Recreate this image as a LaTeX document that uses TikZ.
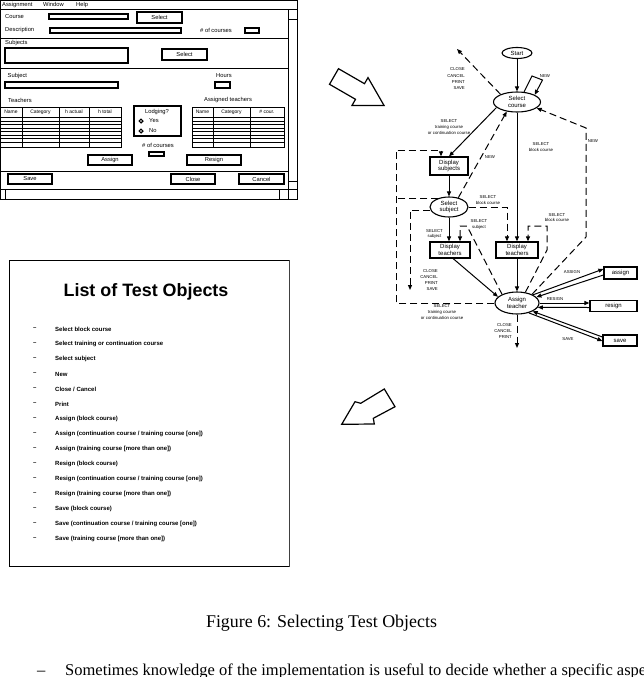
\documentclass[tikz,border=0pt]{standalone}
\usepackage{fontspec}
\setmainfont{Liberation Serif}
\setsansfont{Liberation Sans}
\usetikzlibrary{arrows.meta,shapes.geometric,calc}
\begin{document}
\begin{tikzpicture}[x=1pt,y=-1pt,
  guitext/.style={font=\sffamily\fontsize{5.8}{6.5}\selectfont, inner sep=0pt},
  headtext/.style={font=\sffamily\fontsize{5}{6}\selectfont, inner sep=0pt},
  field/.style={draw, line width=1.1pt, fill=white},
  button/.style={draw, line width=1.4pt, fill=white, inner sep=0pt, font=\sffamily\fontsize{5.8}{6.5}\selectfont},
  thinl/.style={line width=0.7pt},
  midl/.style={line width=0.95pt},
  blockarrow/.style={draw, line width=1.2pt, fill=white, line join=miter},
  state/.style={ellipse, draw, line width=1.1pt, fill=white, inner sep=0pt, align=center, font=\sffamily\fontsize{6}{6.7}\selectfont},
  proc/.style={rectangle, draw, line width=1.2pt, fill=white, inner sep=0pt, align=center, font=\sffamily\fontsize{6}{6.7}\selectfont},
  lbl/.style={font=\sffamily\fontsize{4.3}{5.6}\selectfont, inner sep=0pt, align=center},
  caps/.style={font=\sffamily\fontsize{4.3}{6.2}\selectfont, inner sep=0pt, align=right},
  flow/.style={line width=1pt, -{Triangle[length=5pt,width=4pt]}},
  dashl/.style={line width=1pt, dash pattern=on 7pt off 4pt},
  dflow/.style={flow, dash pattern=on 7pt off 4pt},
  listitem/.style={font=\sffamily\bfseries\fontsize{6}{7}\selectfont, inner sep=0pt, anchor=west},
]
\useasboundingbox (0,0) rectangle (644,677);

% ================= GUI window =================
\draw[line width=0.9pt, fill=white] (0,0) rectangle (297,199);
\draw[midl] (0,9.3) -- (297,9.3);
\node[guitext, anchor=west] (mAssign) at (2,4.8) {Assignment};
\node[guitext, anchor=west] (mWindow) at (43,4.8) {Window};
\node[guitext, anchor=west] (mHelp) at (76,4.8) {Help};
\draw[midl] (288,9.3) -- (288,199);
\draw[thinl] (288,19.3) -- (297,19.3);
\draw[thinl] (288,181) -- (297,181);
\draw[midl] (0,189) -- (297,189);
\draw[thinl] (5,189) -- (5,199);
\draw[thinl] (279,189) -- (279,199);
\draw[midl] (0,38.5) -- (288,38.5);
\draw[midl] (0,68) -- (288,68);
\draw[midl] (0,171) -- (288,171);

\node[guitext, anchor=west] (tCourse) at (5,16.5) {Course};
\draw[field] (49,14) rectangle (128,19);
\node[button, minimum width=45pt, minimum height=11pt] (bSel1) at (159.5,17.5) {Select};
\node[guitext, anchor=west] (tDesc) at (5,30.5) {Description};
\draw[field] (50,28) rectangle (181,33);
\node[guitext, anchor=west] (tNum1) at (200,30.5) {\# of courses};
\draw[field] (245,28) rectangle (259,33);

\node[guitext, anchor=west] (tSubjects) at (5,43.3) {Subjects};
\draw[field] (5,48) rectangle (128,63);
\node[button, minimum width=45pt, minimum height=11pt] (bSel2) at (184.5,54.5) {Select};

\node[guitext, anchor=west] (tSubject) at (7.5,75.7) {Subject};
\draw[field] (5,82) rectangle (118,88);
\node[guitext, anchor=west] (tHours) at (216,75.7) {Hours};
\draw[field] (215,82) rectangle (230,88);

\node[guitext, anchor=west] (tTeachers) at (8,100) {Teachers};
\node[guitext, anchor=west] (tAssigned) at (204,100) {Assigned teachers};

% teachers table
\draw[line width=1pt] (0,107) rectangle (121,147);
\foreach \yy in {117,121,124.5,128,131.5,135,138.5,142.5} \draw[thinl] (0,\yy) -- (121,\yy);
\foreach \xx in {22,59,89} \draw[thinl] (\xx,107) -- (\xx,147);
\node[headtext] (hName) at (11,112) {Name};
\node[headtext] (hCat) at (40.5,112) {Category};
\node[headtext] (hAct) at (74,112) {h actual};
\node[headtext] (hTot) at (105,112) {h total};

% assigned table
\draw[line width=1pt] (192,107) rectangle (284,147);
\foreach \yy in {117,121,124.5,128,131.5,135,138.5,142.5} \draw[thinl] (192,\yy) -- (284,\yy);
\foreach \xx in {213,250} \draw[thinl] (\xx,107) -- (\xx,147);
\node[headtext] (hName2) at (202.5,112) {Name};
\node[headtext] (hCat2) at (231.5,112) {Category};
\node[headtext] (hCour) at (267,112) {\# cour.};

% lodging
\draw[line width=1.1pt] (134,106) rectangle (181,136);
\node[guitext] (tLodg) at (157,111.7) {Lodging?};
\draw[line width=1.2pt] (141,121) circle (1.9);
\draw[line width=1.2pt] (141,131) circle (1.9);
\node[guitext, anchor=west] (tYes) at (149,120.5) {Yes};
\node[guitext, anchor=west] (tNo) at (149,130.5) {No};
\node[guitext] (tNum2) at (158,145) {\# of courses};
\draw[field] (149,152) rectangle (164,156);

\node[button, minimum width=44pt, minimum height=10pt] (bAssign) at (110,160) {Assign};
\node[button, minimum width=54pt, minimum height=10pt] (bResign) at (214,160) {Resign};
\node[button, minimum width=44pt, minimum height=10pt] (bSave) at (30,179) {Save};
\node[button, minimum width=44pt, minimum height=10pt] (bClose) at (193,179) {Close};
\node[button, minimum width=45pt, minimum height=10pt] (bCancel) at (261.5,179) {Cancel};

% ================= block arrows =================
\draw[blockarrow] (338.5,68.7) -- (364.5,83.7) -- (368,77.6) -- (384,105.4) -- (352,105.4) -- (355.5,99.3) -- (329.5,84.3) -- cycle;
\draw[blockarrow] (384.3,389) -- (395,406.7) -- (373.3,418.3) -- (374.3,424) -- (341.7,424.3) -- (355,401.7) -- (360.7,403.3) -- cycle;

% ================= list box =================
\draw[line width=0.9pt] (9,260) rectangle (289,566);
\draw[line width=1.6pt, black!75] (289.3,260) -- (289.3,566.5);
\node[font=\sffamily\bfseries\fontsize{17.9}{20}\selectfont, inner sep=0pt] (title) at (146,292) {List of Test Objects};
\foreach \k in {0,...,14} \node[listitem] (dash\k) at (33,{329+15*\k}) {–};
\node[listitem] (it1) at (55,329) {Select block course};
\node[listitem] (it2) at (55,344) {Select training or continuation course};
\node[listitem] (it3) at (55,359) {Select subject};
\node[listitem] (it4) at (55,374) {New};
\node[listitem] (it5) at (55,389) {Close / Cancel};
\node[listitem] (it6) at (55,404) {Print};
\node[listitem] (it7) at (55,419) {Assign (block course)};
\node[listitem] (it8) at (55,434) {Assign (continuation course / training course [one])};
\node[listitem] (it9) at (55,449) {Assign (training course [more than one])};
\node[listitem] (it10) at (55,464) {Resign (block course)};
\node[listitem] (it11) at (55,479) {Resign (continuation course / training course [one])};
\node[listitem] (it12) at (55,494) {Resign (training course [more than one])};
\node[listitem] (it13) at (55,509) {Save (block course)};
\node[listitem] (it14) at (55,524) {Save (continuation course / training course [one])};
\node[listitem] (it15) at (55,539) {Save (training course [more than one])};

% ================= state diagram =================
\node[state, minimum width=30pt, minimum height=11pt] (start) at (517,53) {Start};
\node[state, minimum width=47pt, minimum height=20pt] (selcourse) at (517,102) {Select\\course};
\node[proc, minimum width=38pt, minimum height=18pt] (dsubj) at (449,166) {Display\\subjects};
\node[state, minimum width=38pt, minimum height=20pt] (selsubj) at (449,207) {Select\\subject};
\node[proc, minimum width=40pt, minimum height=16pt] (dteachL) at (450,250) {Display\\teachers};
\node[proc, minimum width=42pt, minimum height=16pt] (dteachR) at (517,250) {Display\\teachers};
\node[state, minimum width=44pt, minimum height=22pt] (assign) at (517,303) {Assign\\teacher};
\node[proc, minimum width=33pt, minimum height=12pt] (bassign) at (620.5,273) {assign};
\node[proc, minimum width=47pt, minimum height=11.5pt] (bresign) at (613.5,306) {resign};
\node[proc, minimum width=34pt, minimum height=11pt] (bsave) at (620,340.5) {save};

\coordinate (newA) at (532,76);
\coordinate (newB) at (542.5,80);
\coordinate (exitTL) at (457,49);
\coordinate (rn1) at (586,237);
\coordinate (rn2) at (586,128);
\coordinate (sb1) at (507,207);
\coordinate (rb0) at (547,250);
\coordinate (rb1) at (547,226);
\coordinate (rb2) at (528,226);
\coordinate (ls1) at (467,226);
\coordinate (ls2) at (460,226);
\coordinate (bl1) at (396,303);
\coordinate (bl2) at (396,150);
\coordinate (bl3) at (441,150);
\coordinate (il1) at (410,210);
\coordinate (il2) at (410,290);
\coordinate (exitB) at (517,348);

\draw[flow] (start) -- (selcourse);
\draw[flow, line join=miter] (selcourse.55) -- (newA) -- (newB) -- (selcourse.22);
\node[lbl] (lNew1) at (545,76) {NEW};

\draw[dflow] (selcourse.155) -- (exitTL);
\node[caps, anchor=east] (lClose1) at (465,78.7) {CLOSE\\CANCEL\\PRINT\\SAVE};

\draw[flow] (selcourse.195) -- (dsubj.north);
\node[lbl] (lSelTr1) at (449,127) {SELECT\\training course\\or continuation course};

\draw[dflow] (selsubj.45) -- (selcourse.223);
\node[lbl] (lNew2) at (490,157) {NEW};

\draw[dflow] (assign.30) -- (rn1) -- (rn2) -- (selcourse.343);
\node[lbl] (lNew3) at (593,141) {NEW};

\draw[flow] (selcourse) -- (dteachR);
\node[lbl] (lSelBl1) at (541,147) {SELECT\\block course};

\draw[flow] (dsubj) -- (selsubj);
\draw[flow] (selsubj.south) -- (selsubj.south |- dteachL.north);
\node[lbl] (lSelSub1) at (434.5,234) {SELECT\\subject};

\draw[dflow] (selsubj.east) -- (sb1) -- (sb1 |- dteachR.north);
\node[lbl] (lSelBl2) at (488,200) {SELECT\\block course};

\draw[dflow] (assign.52) -- (rb0) -- (rb1) -- (rb2) -- (rb2 |- dteachR.north);
\node[lbl] (lSelBl3) at (557,217.5) {SELECT\\block course};

\draw[dflow] (assign.150) -- (ls1) -- (ls2) -- (ls2 |- dteachL.north);
\node[lbl] (lSelSub2) at (479,224.5) {SELECT\\subject};

\draw[flow] (dteachL.-70) -- (assign.162);
\draw[flow] (dteachR) -- (assign);

\draw[dflow] (assign.west) -- (bl1) -- (bl2) -- (bl3) -- (bl3 |- dsubj.north);
\draw[dashl] (selsubj.140) -- (selsubj.140 -| bl1);
\node[lbl] (lSelTr2) at (442,312) {SELECT\\training course\\or continuation course};

\draw[dflow] (selsubj.190) -- (selsubj.190 -| il1) -- (il2);
\node[caps, anchor=east] (lClose2) at (438,280) {CLOSE\\CANCEL\\PRINT\\SAVE};

\draw[dflow] (assign) -- (exitB);
\node[caps, anchor=east] (lClose3) at (512,331) {CLOSE\\CANCEL\\PRINT};

\draw[flow] (assign.27) -- ($(bassign.west)+(0,-4)$);
\draw[flow] ($(bassign.west)+(0,2)$) -- (assign.17);
\node[lbl] (lAssign) at (572,272.5) {ASSIGN};

\draw[flow] (assign.east) -- ($(bresign.west)+(0,-3)$);
\draw[flow] ($(bresign.west)+(0,1.5)$) -- (assign.-12);
\node[lbl] (lResign) at (555,299) {RESIGN};

\draw[flow] ($(bsave.west)+(0,-3.5)$) -- (assign.-28);
\draw[flow] (assign.-40) -- ($(bsave.west)+(0,0.5)$);
\node[lbl] (lSave) at (568,339) {SAVE};

% ================= caption and text =================
\node[font=\fontsize{17.9}{21}\selectfont, inner sep=0pt] (caption) at (321.5,623) {Figure 6: Selecting Test Objects};
\begin{scope}
\clip (0,0) rectangle (644,677);
\node[font=\fontsize{16.5}{19}\selectfont, inner sep=0pt, anchor=base west] (bdash) at (37,675.5) {–};
\node[font=\fontsize{16.5}{19}\selectfont, inner sep=0pt, anchor=base west] (body) at (65,675.5) {Sometimes knowledge of the implementation is useful to decide whether a specific aspect};
\end{scope}
\end{tikzpicture}
\end{document}
